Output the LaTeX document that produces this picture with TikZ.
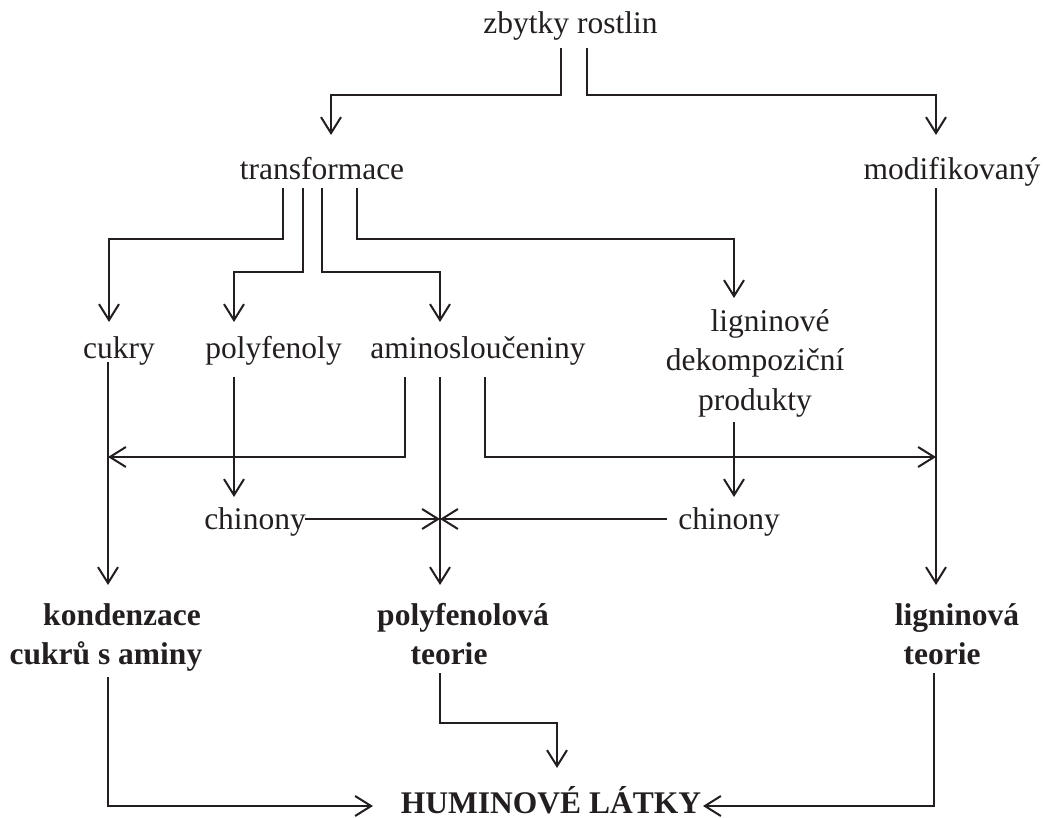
\documentclass[tikz,border=0pt]{standalone}
\usepackage{fontspec}
\setmainfont{Liberation Serif}
\usetikzlibrary{arrows.meta,calc}
\definecolor{ink}{RGB}{35,31,32}
\begin{document}
\begin{tikzpicture}[x=0.5pt,y=-0.5pt,
  lbl/.style={inner sep=0pt, anchor=base, text=ink, align=center,
    font=\fontsize{15.75pt}{19.75pt}\selectfont},
  blbl/.style={lbl, font=\fontsize{15.75pt}{19.5pt}\selectfont\bfseries},
  con/.style={draw=ink, line width=1pt},
  arr/.style={con, -{Straight Barb[length=8pt,width=10pt]}}]
\useasboundingbox (0,0) rectangle (1045,818);

% nodes (positions in px, y downwards; multi-line nodes placed at last baseline)
\node[lbl] (zr)   at (570.5,34) {zbytky rostlin};
\node[lbl] (tr)   at (322,180)  {transformace};
\node[lbl] (mod)  at (952,180)  {modifikovaný};
\node[lbl] (cuk)  at (119,358)  {cukry};
\node[lbl] (pol)  at (273.5,358) {polyfenoly};
\node[lbl] (ami)  at (478,358)  {aminosloučeniny};
\node[lbl] (lig)  at (755,410)  {\hspace*{15pt}ligninové\\dekompoziční\\produkty};
\node[lbl] (chL)  at (255,529)  {chinony};
\node[lbl] (chR)  at (729,529)  {chinony};
\node[blbl] (kon) at (106,664)  {\hspace*{16pt}kondenzace\\cukrů s aminy};
\node[blbl] (pfT) at (463,664)  {polyfenolová\\teorie\hspace*{14pt}};
\node[blbl] (lgT) at (957,664)  {ligninová\\teorie\hspace*{15pt}};
\node[blbl] (hum) at (551,813)  {HUMINOVÉ LÁTKY};
\coordinate (meet) at ($(ami.base)+(-38,161)$);

% connectors
\draw[arr] ($(zr.base)+(-9.5,14)$) -- ++(0,47) -| ($(tr.base)+(9,-45)$);
\draw[arr] ($(zr.base)+(16.5,14)$) -- ++(0,47) -| ($(mod.base)+(-16,-45)$);

\draw[arr] ($(tr.base)+(-39,8)$) -- ++(0,51) -| ($(cuk.base)+(-10,-36)$);
\draw[arr] ($(tr.base)+(-19,8)$) -- ++(0,84) -| ($(pol.base)+(-39.5,-36)$);
\draw[arr] ($(tr.base)+(0,8)$)   -- ++(0,84) -| ($(ami.base)+(-38,-36)$);
\draw[arr] ($(tr.base)+(35,8)$)  -- ++(0,51) -| ($(lig.base)+(-21,-112)$);

\draw[arr] ($(mod.base)+(-16,8)$) -- ($(lgT.base)+(-21,-79)$);
\draw[arr] ($(cuk.base)+(-11,4)$) -- ($(kon.base)+(2,-79)$);
\draw[arr] ($(pol.base)+(-39.5,19)$) -- ($(chL.base)+(-21,-32)$);

\draw[arr] ($(ami.base)+(-73,19)$) -- ++(0,80) -- ($(cuk.base)+(-11,99)$);
\draw[arr] ($(ami.base)+(-38,19)$) -- ($(pfT.base)+(-23,-79)$);
\draw[arr] ($(ami.base)+(7,19)$) -- ++(0,80) -- ($(mod.base)+(-16,277)$);

\draw[arr] ($(lig.base)+(-21,12)$) -- ($(chR.base)+(5,-32)$);
\draw[arr] ($(chL.base)+(50,-10)$) -- (meet);
\draw[arr] ($(chR.base)+(-62,-10)$) -- (meet);

\draw[arr] ($(kon.base)+(2,13)$) -- ++(0,129) -- ($(hum.base)+(-178,-7)$);
\draw[arr] ($(pfT.base)+(-23,9)$) -- ++(0,50) -| ($(hum.base)+(6,-45)$);
\draw[arr] ($(lgT.base)+(-23,9)$) -- ++(0,133) -- ($(hum.base)+(152,-7)$);
\end{tikzpicture}
\end{document}
